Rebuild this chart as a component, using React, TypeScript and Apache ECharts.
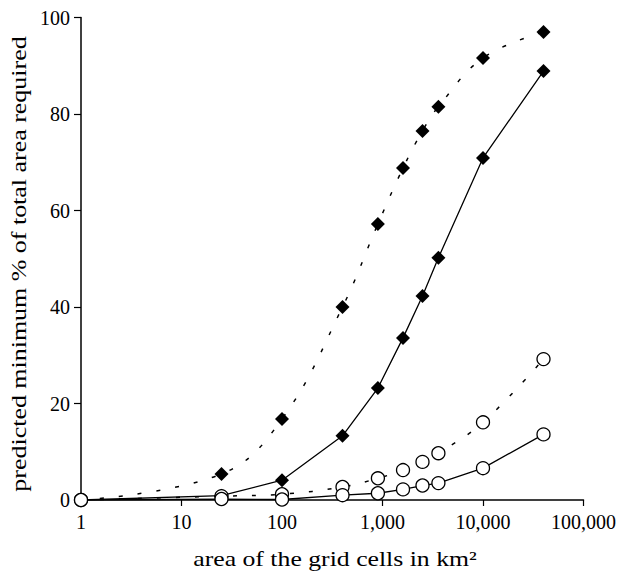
import React, { useEffect, useRef } from "react";
import * as echarts from "echarts";

const areas = [1, 25, 100, 400, 900, 1600, 2500, 3600, 10000, 40000];
const diamondDotted = [0, 5.4, 16.8, 40.0, 57.2, 68.8, 76.5, 81.5, 91.6, 97.0];
const diamondSolid = [0, 0.9, 4.1, 13.3, 23.2, 33.6, 42.3, 50.2, 70.9, 88.9];
const circleDotted = [0, 0.8, 1.2, 2.7, 4.5, 6.2, 7.9, 9.7, 16.1, 29.2];
const circleSolid = [0, 0.2, 0.1, 1.0, 1.4, 2.2, 3.0, 3.5, 6.6, 13.6];

const yTitle = "predicted minimum % of total area required";
const xTitle = "area of the grid cells in km²";

const FONT = "'Liberation Serif', 'DejaVu Serif', serif";

function pairs(ys: number[]) {
  return areas.map((x, i) => [x, ys[i]]);
}

export default function App() {
  const ref = useRef<HTMLDivElement>(null);
  useEffect(() => {
    if (!ref.current) return;
    const chart = echarts.init(ref.current, undefined, { renderer: "svg" });
    const dotted = { color: "#000", width: 1.5, type: [4, 15] as any };
    const solid = { color: "#000", width: 1.3, type: "solid" as any };
    chart.setOption({
      animation: false,
      backgroundColor: "#fff",
      grid: { left: 81, right: 34, top: 17.5, bottom: 75, containLabel: false },
      xAxis: {
        type: "log",
        logBase: 10,
        min: 1,
        max: 100000,
        axisLine: { lineStyle: { color: "#000", width: 1.5 } },
        axisTick: { show: true, inside: false, length: 6, lineStyle: { color: "#000", width: 1.2 } },
        minorTick: { show: false },
        splitLine: { show: false },
        axisLabel: {
          color: "#000",
          fontFamily: FONT,
          fontSize: 20,
          margin: 12,
          formatter: (v: number) => Math.round(v).toLocaleString("en-US"),
        },
      },
      yAxis: {
        type: "value",
        min: 0,
        max: 100,
        interval: 20,
        axisLine: { show: true, lineStyle: { color: "#000", width: 1.5 } },
        axisTick: { show: true, inside: false, length: 7, lineStyle: { color: "#000", width: 1.2 } },
        splitLine: { show: false },
        axisLabel: { color: "#000", fontFamily: FONT, fontSize: 20, margin: 11 },
      },
      graphic: [
        {
          type: "text",
          x: 19,
          y: 264,
          rotation: Math.PI / 2,
          scaleX: 1.18,
          style: {
            text: yTitle,
            fontFamily: FONT,
            fontSize: 22,
            fill: "#000",
            align: "center",
            verticalAlign: "middle",
          },
        },
        {
          type: "text",
          x: 335,
          y: 559,
          scaleX: 1.17,
          style: {
            text: xTitle,
            fontFamily: FONT,
            fontSize: 22,
            fill: "#000",
            align: "center",
            verticalAlign: "middle",
          },
        },
      ],
      series: [
        {
          type: "line",
          data: pairs(diamondDotted),
          smooth: 0.4,
          symbol: "diamond",
          symbolSize: 14,
          itemStyle: { color: "#000", borderWidth: 0 },
          lineStyle: dotted,
          z: 2,
        },
        {
          type: "line",
          data: pairs(diamondSolid),
          smooth: false,
          symbol: "diamond",
          symbolSize: 14,
          itemStyle: { color: "#000", borderWidth: 0 },
          lineStyle: solid,
          z: 2,
        },
        {
          type: "line",
          data: pairs(circleDotted),
          smooth: 0.4,
          symbol: "circle",
          symbolSize: 13,
          itemStyle: { color: "#fff", borderColor: "#000", borderWidth: 1.3 },
          lineStyle: dotted,
          z: 3,
        },
        {
          type: "line",
          data: pairs(circleSolid),
          smooth: false,
          symbol: "circle",
          symbolSize: 13,
          itemStyle: { color: "#fff", borderColor: "#000", borderWidth: 1.3 },
          lineStyle: solid,
          z: 3,
        },
      ],
    });
    return () => chart.dispose();
  }, []);
  return (
    <div
      ref={ref}
      style={{ position: "absolute", left: 0, top: 0, width: 619, height: 575 }}
    />
  );
}
